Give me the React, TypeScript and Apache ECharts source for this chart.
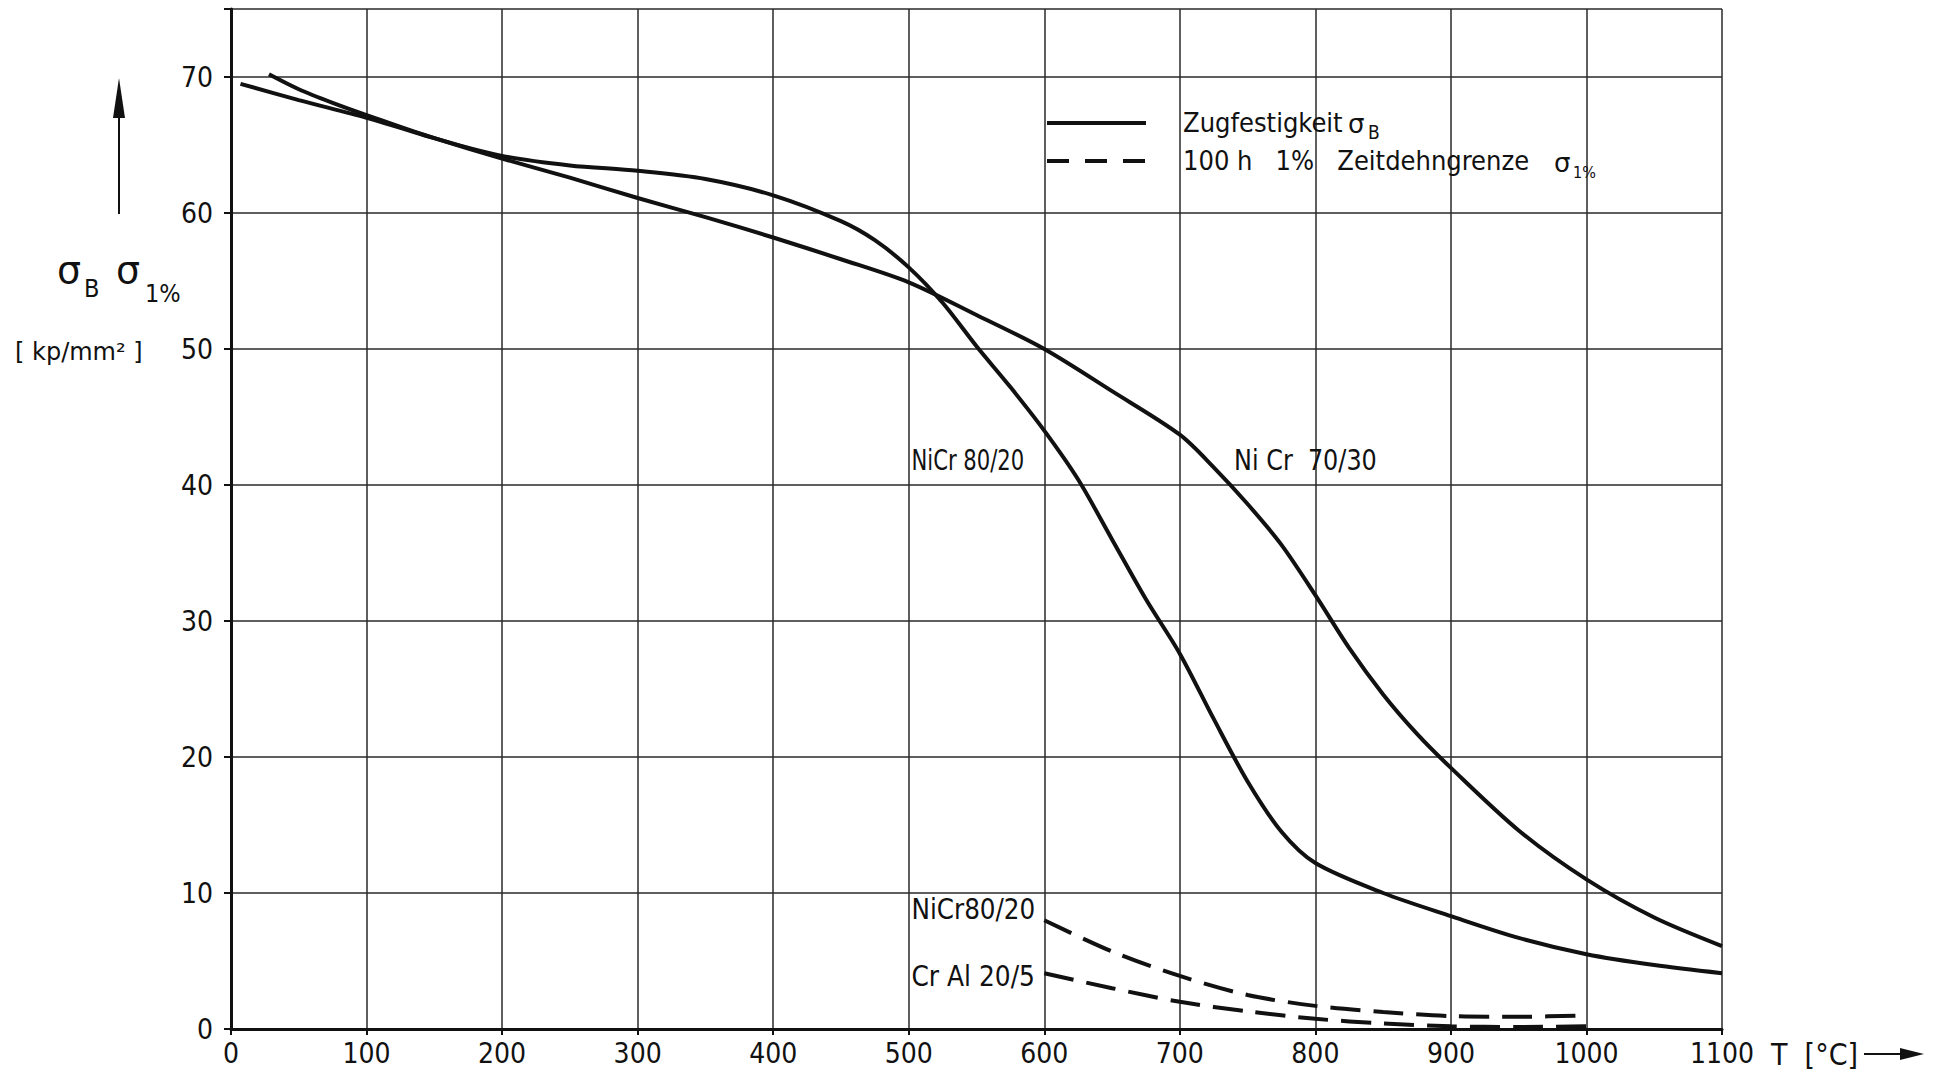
import React, { useEffect, useRef } from "react";
import * as echarts from "echarts";

// --- data ---
const nicr8020X = [28, 50, 75, 100, 150, 200, 250, 300, 350, 400, 450, 475, 500, 525, 550, 575, 600, 625, 650, 675, 700, 725, 750, 775, 800, 850, 900, 950, 1000, 1050, 1100];
const nicr8020Y = [70.2, 69.1, 68.1, 67.2, 65.5, 64.2, 63.5, 63.1, 62.5, 61.3, 59.4, 58.0, 56.0, 53.4, 50.2, 47.2, 44.0, 40.4, 36.0, 31.6, 27.6, 22.8, 18.2, 14.5, 12.2, 10.0, 8.3, 6.7, 5.5, 4.7, 4.1];

const nicr7030X = [7, 50, 100, 150, 200, 250, 300, 350, 400, 450, 500, 550, 600, 650, 700, 725, 750, 775, 800, 825, 850, 875, 900, 950, 1000, 1050, 1100];
const nicr7030Y = [69.5, 68.3, 67.0, 65.5, 64.0, 62.6, 61.1, 59.7, 58.2, 56.6, 54.9, 52.5, 50.0, 46.9, 43.7, 41.3, 38.6, 35.6, 31.9, 28.0, 24.6, 21.7, 19.2, 14.6, 11.0, 8.2, 6.1];

const creepX = [600, 650, 700, 750, 800, 850, 900, 950, 1000];
const creepNiCr8020Y = [8.0, 5.7, 3.9, 2.5, 1.7, 1.25, 0.95, 0.9, 1.0];
const creepCrAl205Y = [4.1, 3.0, 2.0, 1.3, 0.75, 0.4, 0.2, 0.15, 0.2];

const xTicks = [0, 100, 200, 300, 400, 500, 600, 700, 800, 900, 1000, 1100];
const yTicks = [0, 10, 20, 30, 40, 50, 60, 70];

const curveLabels = [
  { text: "NiCr 80/20", x: 502, y: 41.8, sx: 0.84 },
  { text: "Ni Cr  70/30", x: 740, y: 41.8, sx: 0.95 },
  { text: "NiCr80/20", x: 502, y: 8.8, sx: 0.98 },
  { text: "Cr Al 20/5", x: 502, y: 3.9, sx: 0.99 },
];

const legendItems = ["Zugfestigkeit", "100 h   1%   Zeitdehngrenze"];

const pairs = (xs: number[], ys: number[]) => xs.map((x, i) => [x, ys[i]]);

const FONT = "'Liberation Sans Narrow', 'DejaVu Sans Condensed', 'Roboto Condensed', 'Liberation Sans', sans-serif";
const SYM = "'DejaVu Sans', sans-serif";
const INK = "#111";

export default function App() {
  const ref = useRef<HTMLDivElement>(null);
  useEffect(() => {
    if (!ref.current) return;
    const chart = echarts.init(ref.current, undefined, { renderer: "svg" });
    const gridLeft = 231, gridTop = 9, gridRight = 220, gridBottom = 44;
    const W = 1942, H = 1073;
    const pw = W - gridLeft - gridRight;
    const ph = H - gridTop - gridBottom;
    const px = (x: number) => gridLeft + (x / 1100) * pw;
    const py = (y: number) => gridTop + (1 - y / 75) * ph;

    const solid = (name: string, data: number[][]) => ({
      type: "line", name, data, smooth: 0.3, showSymbol: false, symbol: "none",
      lineStyle: { color: INK, width: 4 }, z: 5,
    });
    const dashed = (name: string, data: number[][]) => ({
      type: "line", name, data, smooth: 0.3, showSymbol: false, symbol: "none",
      lineStyle: { color: INK, width: 4, type: [30, 13] }, z: 5,
    });

    const textStyle = { fontFamily: FONT, fontSize: 28, fill: INK };
    const t = (x: number, y: number, text: string, extra: any = {}, el: any = {}) => ({
      type: "text", x, y, z: 10, ...el,
      style: { ...textStyle, text, textAlign: "left", textVerticalAlign: "middle", ...extra },
    });

    chart.setOption({
      animation: false,
      backgroundColor: "#fff",
      grid: { left: gridLeft, top: gridTop, right: gridRight, bottom: gridBottom, containLabel: false },
      xAxis: {
        type: "value", min: 0, max: 1100, interval: 100,
        axisLine: { show: true, lineStyle: { color: INK, width: 3 } },
        axisTick: { show: true, length: 6, lineStyle: { color: INK, width: 2 } },
        splitLine: { show: true, lineStyle: { color: "#2a2a2a", width: 1.5 } },
        axisLabel: {
          margin: 10, color: INK, fontFamily: FONT, fontSize: 28,
          formatter: (v: number) => (xTicks.includes(v) ? String(v) : ""),
        },
      },
      yAxis: {
        type: "value", min: 0, max: 75, interval: 10,
        axisLine: { show: true, lineStyle: { color: INK, width: 3 } },
        axisTick: { show: true, length: 7, lineStyle: { color: INK, width: 2 } },
        splitLine: { show: true, lineStyle: { color: "#2a2a2a", width: 1.5 } },
        axisLabel: {
          margin: 18, color: INK, fontFamily: FONT, fontSize: 28,
          formatter: (v: number) => (yTicks.includes(v) ? String(v) : ""),
        },
      },
      series: [
        solid("NiCr 80/20 σB", pairs(nicr8020X, nicr8020Y)),
        solid("NiCr 70/30 σB", pairs(nicr7030X, nicr7030Y)),
        dashed("NiCr 80/20 σ1%", pairs(creepX, creepNiCr8020Y)),
        dashed("CrAl 20/5 σ1%", pairs(creepX, creepCrAl205Y)),
      ],
      graphic: [
        // curve labels
        ...curveLabels.map((l) => t(px(l.x), py(l.y), l.text, {}, { scaleX: l.sx })),
        // legend
        { type: "line", z: 10, shape: { x1: 1047, y1: 123, x2: 1146, y2: 123 }, style: { stroke: INK, lineWidth: 4 } },
        { type: "line", z: 10, shape: { x1: 1047, y1: 161, x2: 1146, y2: 161 }, style: { stroke: INK, lineWidth: 4, lineDash: [22, 16] } },
        t(1183, 122, legendItems[0], { fontSize: 27 }),
        t(1348, 124, "σ", { fontSize: 26, fontFamily: SYM }),
        t(1368, 132, "B", { fontSize: 19 }),
        t(1183, 160, legendItems[1], { fontSize: 27 }),
        t(1554, 163, "σ", { fontSize: 26, fontFamily: SYM }),
        t(1573, 172, "1%", { fontSize: 16 }),
        // y axis title
        { type: "line", shape: { x1: 119, y1: 110, x2: 119, y2: 214 }, style: { stroke: INK, lineWidth: 2 } },
        { type: "polygon", shape: { points: [[119, 78], [113, 118], [125, 118]] }, style: { fill: INK } },
        t(57, 270, "σ", { fontFamily: SYM, fontSize: 38 }),
        t(84, 288, "B", { fontSize: 25 }),
        t(116, 270, "σ", { fontFamily: SYM, fontSize: 38 }),
        t(145, 293, "1%", { fontSize: 25 }),
        t(15, 352, "[ kp/mm² ]", { fontFamily: SYM, fontSize: 24 }),
        // x axis title
        t(1771, 1054, "T  [°C]", { fontSize: 30 }),
        { type: "line", shape: { x1: 1864, y1: 1054, x2: 1905, y2: 1054 }, style: { stroke: INK, lineWidth: 2 } },
        { type: "polygon", shape: { points: [[1924, 1054], [1900, 1048], [1900, 1060]] }, style: { fill: INK } },
      ],
    });
    return () => chart.dispose();
  }, []);
  return <div ref={ref} style={{ position: "absolute", left: 0, top: 0, width: 1942, height: 1073 }} />;
}
